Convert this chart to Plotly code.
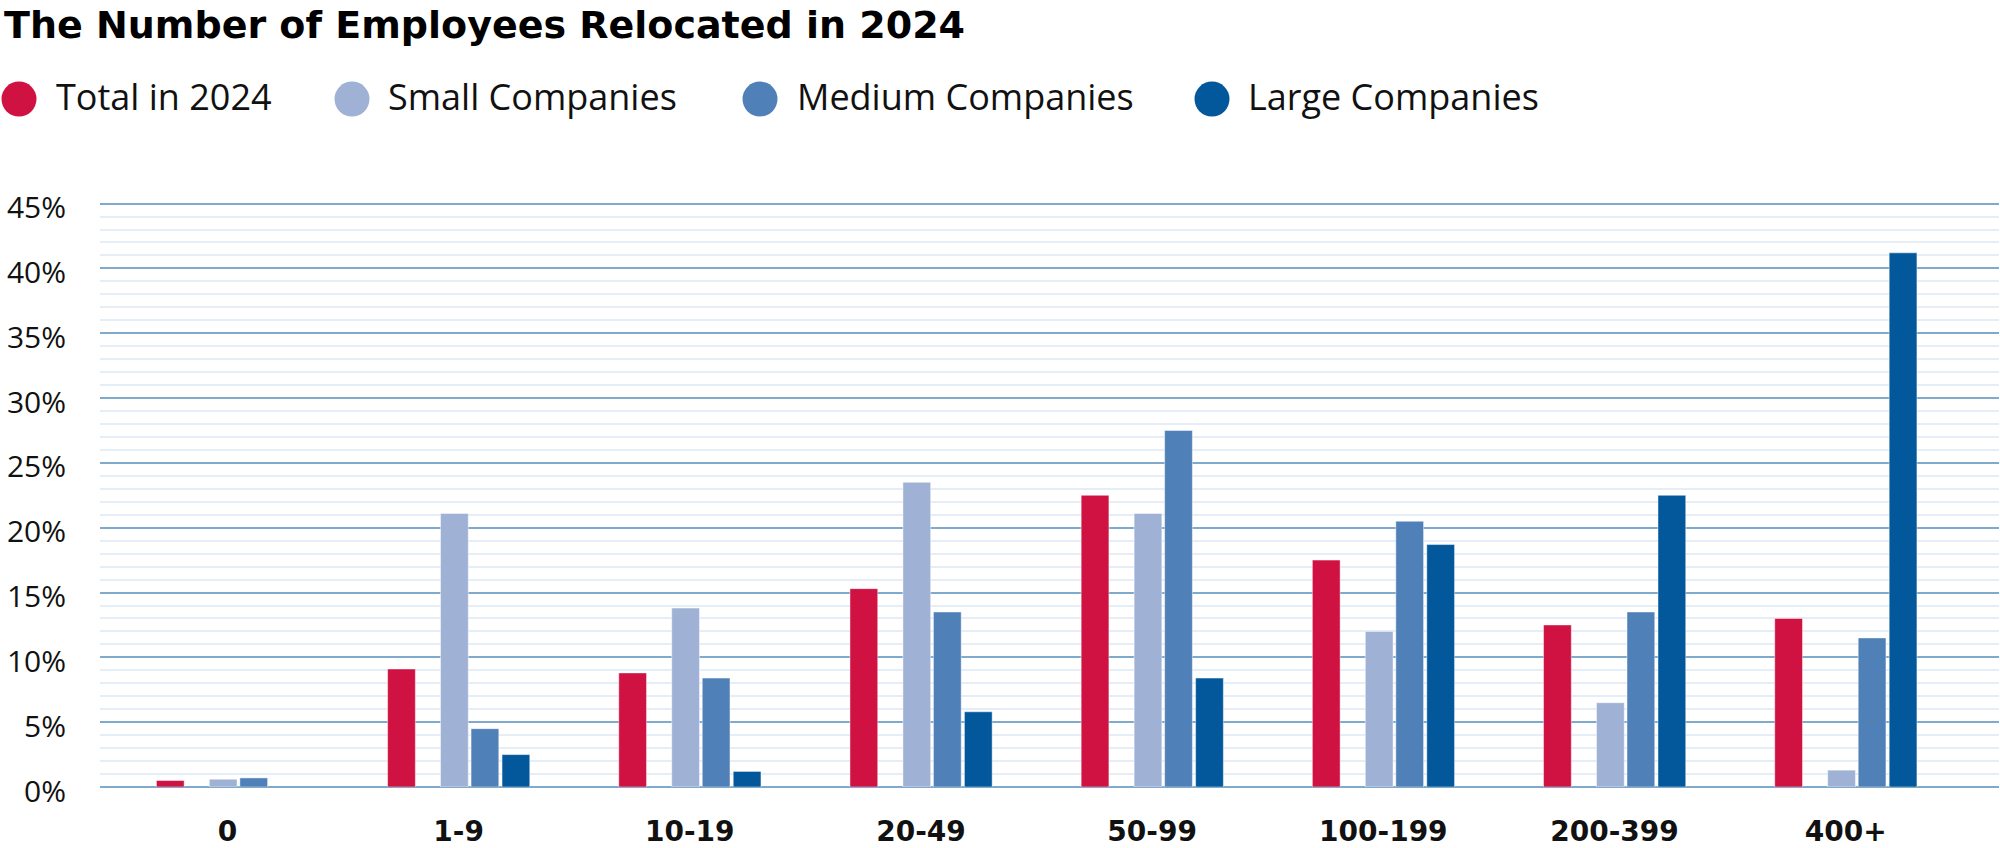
import plotly.graph_objects as go

# ---- data ----
categories = ["0", "1-9", "10-19", "20-49", "50-99", "100-199", "200-399", "400+"]
total_2024 = [0.5, 9.1, 8.8, 15.3, 22.5, 17.5, 12.5, 13.0]
small_cos = [0.6, 21.1, 13.8, 23.5, 21.1, 12.0, 6.5, 1.3]
medium_cos = [0.7, 4.5, 8.4, 13.5, 27.5, 20.5, 13.5, 11.5]
large_cos = [None, 2.5, 1.2, 5.8, 8.4, 18.7, 22.5, 41.2]
series_names = ["Total in 2024", "Small Companies", "Medium Companies", "Large Companies"]
y_ticks = [0, 5, 10, 15, 20, 25, 30, 35, 40, 45]
y_tick_text = [f"{v}%" for v in y_ticks]

# ---- styling ----
W, H = 2000, 848
ML, MR, MT, MB = 100, 1, 201.4, 61
Y_MAX = 45.2
colors = ["#cf1241", "#9fb2d6", "#5080b8", "#02589b"]
offsets = [-0.307, -0.078, 0.054, 0.188]
bar_w = 0.12
FONT = "Open Sans"
BOLD_FONT = "DejaVu Sans"

fig = go.Figure()
for name, vals, col, off in zip(series_names,
                                [total_2024, small_cos, medium_cos, large_cos],
                                colors, offsets):
    fig.add_trace(go.Bar(
        x=categories, y=vals, name=name,
        marker=dict(color=col, line=dict(color="rgba(255,255,255,0.45)", width=1)),
        offset=off, width=bar_w, showlegend=False,
    ))

pw = W - ML - MR
ph = H - MT - MB


def px_x(px):
    return (px - ML) / pw


def px_y(py):
    return (H - MB - py) / ph


# manual legend: big circles + labels
legend_cx = [19, 352, 760, 1212]
legend_tx = [54, 386, 795, 1246]
legend_cy = 99.5
shapes = []
annotations = []
for name, col, cx, tx in zip(series_names, colors, legend_cx, legend_tx):
    shapes.append(dict(
        type="circle", xref="paper", yref="paper",
        xsizemode="pixel", ysizemode="pixel",
        xanchor=px_x(cx), yanchor=px_y(legend_cy),
        x0=-17.5, x1=17.5, y0=-17.5, y1=17.5,
        fillcolor=col, line=dict(width=0),
    ))
    annotations.append(dict(
        xref="paper", yref="paper", x=px_x(tx), y=px_y(97),
        xanchor="left", yanchor="middle", showarrow=False,
        text=name, font=dict(family=FONT, size=36, color="#111111"),
    ))

fig.update_layout(
    width=W, height=H,
    margin=dict(l=ML, r=MR, t=MT, b=MB, pad=0),
    paper_bgcolor="white", plot_bgcolor="white",
    barmode="group",
    title=dict(
        text="<b>The Number of Employees Relocated in 2024</b>",
        x=4 / W, xref="container", xanchor="left",
        y=1 - 25 / H, yref="container", yanchor="middle", pad=dict(t=0, l=0, b=0, r=0),
        font=dict(family=BOLD_FONT, size=38, color="#000000"),
    ),
    shapes=shapes,
    annotations=annotations,
    xaxis=dict(
        type="category", range=[-0.551, 7.663], automargin=False,
        showgrid=False, showline=False, zeroline=False,
        ticks="", ticklabelstandoff=25,
        tickfont=dict(family=BOLD_FONT, size=28, color="#111111", weight="bold"),
    ),
    yaxis=dict(
        range=[0, Y_MAX], automargin=False,
        tickvals=y_ticks, ticktext=y_tick_text,
        showgrid=True, gridcolor="#80aacb", gridwidth=2,
        zeroline=True, zerolinecolor="#80aacb", zerolinewidth=2,
        showline=False, ticks="", ticklabelstandoff=33, ticklabelshift=4,
        tickfont=dict(family=FONT, size=30, color="#111111"),
        minor=dict(dtick=1, showgrid=True, gridcolor="#e5edf6", gridwidth=1.5),
    ),
    font=dict(family=FONT),
)

fig.write_html(
    "out.html",
    config={"displayModeBar": False},
    post_script="document.body.style.margin='0';document.body.style.padding='0';"
                "document.documentElement.style.overflow='hidden';",
)
